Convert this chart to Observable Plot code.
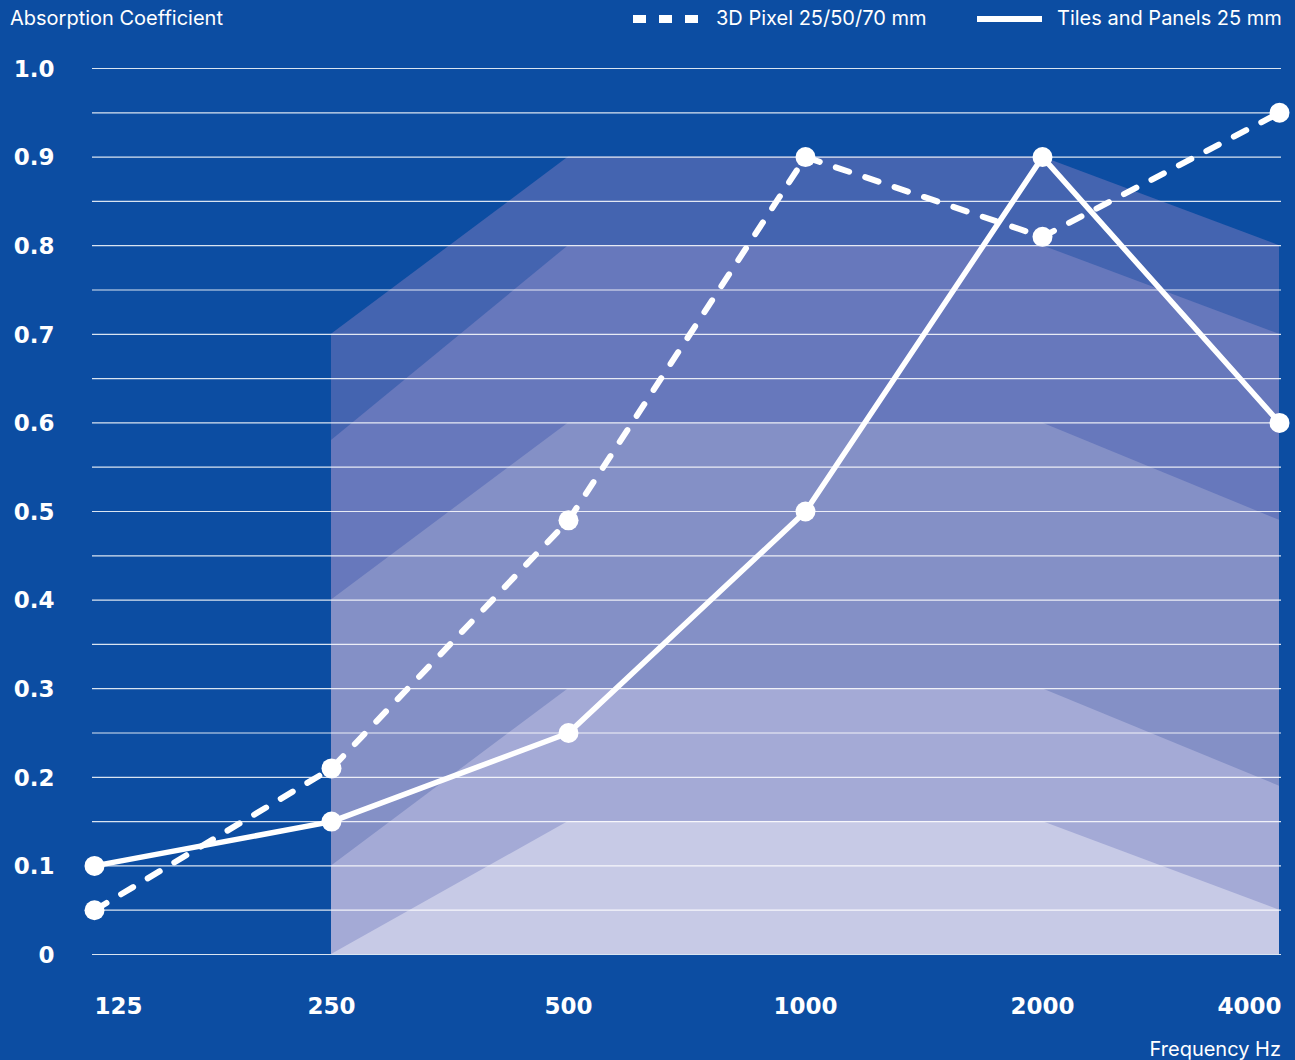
<!DOCTYPE html>
<html>
<head>
<meta charset="utf-8">
<script src="https://cdn.jsdelivr.net/npm/d3@7"></script>
<script src="https://cdn.jsdelivr.net/npm/@observablehq/plot@0.6"></script>
<style>
  html, body { margin: 0; padding: 0; background: #0c4da2; }
  #wrap { position: relative; width: 1295px; height: 1060px; background: #0c4da2; font-family: Inter, "Noto Sans", sans-serif; color: #fff; overflow: hidden; }
  .lbl { position: absolute; font-size: 20px; white-space: nowrap; line-height: 1; }
  .sw { position: absolute; background: #fff; }
  #chart { position: absolute; left: 0; top: 0; }
</style>
</head>
<body>
<div id="wrap">
  <div id="chart"></div>
  <div class="lbl" style="left:10px; top:8px;">Absorption Coefficient</div>
  <div class="sw" style="left:633px; top:15px; width:13px; height:8px;"></div>
  <div class="sw" style="left:659px; top:15px; width:13px; height:8px;"></div>
  <div class="sw" style="left:685px; top:15px; width:13px; height:8px;"></div>
  <div class="lbl" style="left:716px; top:8px;">3D Pixel 25/50/70 mm</div>
  <div class="sw" style="left:977px; top:16px; width:65px; height:6px;"></div>
  <div class="lbl" style="left:1057px; top:8px;">Tiles and Panels 25 mm</div>
  <div class="lbl" style="right:14px; top:1039px;">Frequency Hz</div>
</div>
<script>
// Frequencies (Hz)
const frequencies = ["125", "250", "500", "1000", "2000", "4000"];
// Measured absorption coefficients
const pixel3D = [0.05, 0.21, 0.49, 0.90, 0.81, 0.95];
const tilesPanels = [0.10, 0.15, 0.25, 0.50, 0.90, 0.60];
// Absorption class bands (from 250 Hz to 4000 Hz)
const bandFreqs = ["250", "500", "1000", "2000", "4000"];
const classA = [0.70, 0.90, 0.90, 0.90, 0.80];
const classB = [0.58, 0.80, 0.80, 0.80, 0.70];
const classC = [0.40, 0.60, 0.60, 0.60, 0.49];
const classD = [0.10, 0.30, 0.30, 0.30, 0.19];
const classE = [0.00, 0.15, 0.15, 0.15, 0.05];
const bandColors = ["#4464b0", "#6778bc", "#8490c6", "#a4aad6", "#c7cae6"];
// Y ticks
const yTicks = [0, 0.1, 0.2, 0.3, 0.4, 0.5, 0.6, 0.7, 0.8, 0.9, 1.0];
const gridValues = d3.range(0, 21).map(i => i * 0.05);

const bands = [classA, classB, classC, classD, classE].map((vals, k) =>
  bandFreqs.map((f, i) => ({freq: f, value: vals[i], k})));
const series = (vals) => frequencies.map((f, i) => ({freq: f, value: vals[i]}));
const s1 = series(pixel3D);
const s2 = series(tilesPanels);
const xLabels = frequencies.map((f, i) => ({freq: f, i}));

const labelFont = {fill: "white", fontSize: 23, fontWeight: 700, fontFamily: "'DejaVu Sans', sans-serif"};

const chart = Plot.plot({
  width: 1295,
  height: 1060,
  marginLeft: 92,
  marginRight: 14,
  marginTop: 68,
  marginBottom: 106,
  style: {background: "transparent", overflow: "visible"},
  x: {type: "point", domain: frequencies, padding: 0, axis: null},
  y: {domain: [0, 1], axis: null},
  marks: [
    ...bands.map((b, k) => Plot.areaY(b, {x: "freq", y1: 0, y2: "value", fill: bandColors[k], curve: "linear"})),
    Plot.ruleY(gridValues, {stroke: "white", strokeOpacity: 0.85, strokeWidth: 1.2}),
    Plot.line(s2, {x: "freq", y: "value", stroke: "white", strokeWidth: 5.5, strokeLinejoin: "miter"}),
    Plot.line(s1, {x: "freq", y: "value", stroke: "white", strokeWidth: 6, strokeDasharray: "14,17", strokeLinejoin: "miter"}),
    Plot.dot(s1, {x: "freq", y: "value", r: 10, fill: "white"}),
    Plot.dot(s2, {x: "freq", y: "value", r: 10, fill: "white"}),
    Plot.text(yTicks, {x: () => "125", y: d => d, text: d => d === 0 ? "0" : d.toFixed(1), dx: -40, dy: 1, textAnchor: "end", ...labelFont}),
    Plot.text(xLabels.filter(d => d.i === 0), {x: "freq", y: () => 0, text: "freq", dy: 52, textAnchor: "start", ...labelFont}),
    Plot.text(xLabels.filter(d => d.i > 0 && d.i < 5), {x: "freq", y: () => 0, text: "freq", dy: 52, textAnchor: "middle", ...labelFont}),
    Plot.text(xLabels.filter(d => d.i === 5), {x: "freq", y: () => 0, text: "freq", dy: 52, dx: 2, textAnchor: "end", ...labelFont})
  ]
});
document.getElementById("chart").appendChild(chart);
</script>
</body>
</html>
